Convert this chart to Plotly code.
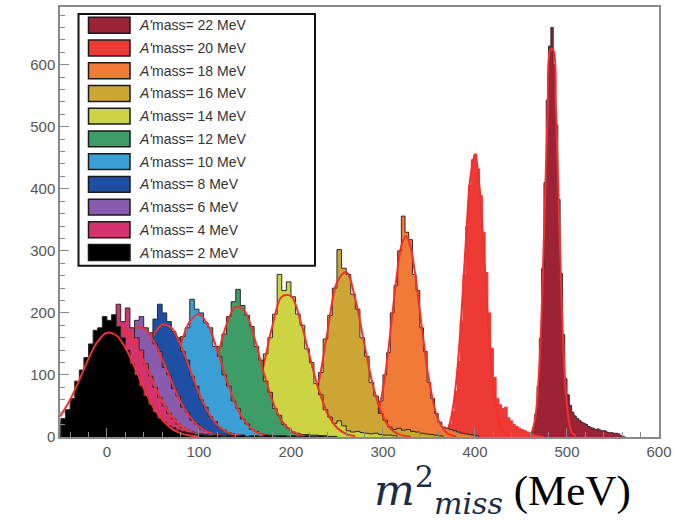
import plotly.graph_objects as go

# ---------------- data ----------------
masses = [22, 20, 18, 16, 14, 12, 10, 8, 6, 4, 2]
fill_colors = ["#9c2236", "#ee3a35", "#f07b39", "#cda535", "#cdd443", "#3e9d67",
               "#3b9fd6", "#1e4fa4", "#8a5aae", "#d3346f", "#000000"]

bin_start = [460, 366, 272, 185, 125, 65, 20, -20, -50, -50, -50]
bin_width = [2.5, 3, 4, 5, 5, 5, 5, 5, 5, 5, 5]

counts_22 = [5, 15, 37, 82, 159, 272, 410, 543, 630, 660, 600, 503, 383, 264, 165, 94, 68, 51,
             40, 34, 30, 27, 24, 22, 20, 17, 15, 14, 12, 13, 11, 10, 10, 8, 7, 7, 6, 6, 5, 2, 1]
counts_20 = [4, 10, 21, 41, 74, 122, 187, 262, 340, 406, 447, 456, 432, 389, 330, 265, 200, 143,
             96, 62, 52, 46, 48, 31, 26, 20, 17, 14, 12, 10, 8, 6, 4, 3, 2, 1]
counts_18 = [1, 2, 4, 9, 18, 36, 58, 100, 136, 200, 244, 300, 356, 330, 318, 262, 236, 176, 138,
             88, 62, 38, 24, 16, 14, 12, 10, 8, 6, 5, 4, 3, 2]
counts_16 = [0, 1, 1, 3, 6, 12, 24, 46, 70, 104, 158, 196, 240, 302, 272, 262, 230, 206, 160,
             130, 88, 66, 38, 27, 16, 12, 14, 11, 12, 9, 8, 6, 5, 4, 3, 2]
counts_14 = [1, 3, 6, 10, 17, 31, 46, 72, 96, 134, 160, 198, 262, 236, 250, 226, 198, 180, 142,
             120, 86, 68, 44, 32, 22, 26, 18, 10, 8, 9, 7, 6, 5, 6, 4, 3, 3, 2]
counts_12 = [1, 2, 4, 7, 12, 20, 31, 46, 62, 90, 112, 146, 166, 194, 218, 238, 212, 196, 178,
             146, 124, 90, 72, 46, 35, 20, 14, 8, 6, 4, 4, 3, 3, 2, 2]
counts_10 = [2, 3, 6, 10, 16, 24, 36, 50, 70, 88, 116, 134, 162, 176, 222, 206, 200, 184, 176,
             146, 130, 100, 82, 58, 46, 29, 21, 12, 9, 5, 4, 3, 2]
counts_8 = [2, 4, 6, 10, 16, 21, 33, 43, 60, 76, 98, 116, 138, 152, 190, 214, 200, 186, 170,
            160, 138, 124, 98, 82, 60, 48, 33, 25, 15, 11, 7, 5, 3, 3]
counts_6 = [4, 6, 9, 14, 21, 27, 39, 50, 66, 80, 99, 117, 136, 146, 166, 170, 188, 194, 176,
            168, 150, 138, 112, 100, 78, 66, 48, 40, 27, 21, 13, 10, 6, 5, 4, 3, 3, 2]
counts_4 = [24, 34, 45, 58, 70, 88, 104, 121, 138, 152, 166, 178, 214, 186, 208, 176, 160, 140,
            118, 98, 80, 64, 50, 38, 29, 21, 15, 11, 8, 6, 5, 4, 3, 3, 2, 3, 2]
counts_2 = [30, 44, 62, 90, 108, 128, 150, 172, 176, 194, 188, 197, 178, 160, 140, 118, 100, 82,
            66, 52, 40, 30, 24, 18, 15, 11, 9, 7, 6, 4, 4, 3, 2, 3, 2, 1,
            2, 1, 2, 3, 1, 2, 2, 1, 3, 2, 1, 2, 2, 1, 2, 1, 1, 2, 1, 1, 2, 1, 1, 1]

# Gaussian fit curves (x, y points)
fit_x_22 = [455, 460, 465, 470, 473, 476, 479, 482, 485, 488, 491, 494, 497, 500, 505, 510]
fit_y_22 = [0.3, 3.6, 26, 115, 226, 376, 527, 624, 624, 527, 376, 226, 115, 50, 8, 1]
fit_x_20 = [360, 370, 375, 380, 385, 390, 395, 400, 405, 410, 415, 420, 425, 430, 440]
fit_y_20 = [0.7, 12, 38, 95, 191, 313, 418, 455, 401, 288, 168, 80, 31, 10, 0.5]
fit_x_18 = [280, 290, 300, 305, 310, 315, 320, 325, 330, 335, 340, 345, 350, 360, 370, 380]
fit_y_18 = [3, 19, 77, 130, 195, 260, 308, 324, 306, 262, 204, 144, 92, 28, 6, 1]
fit_x_16 = [200, 210, 220, 230, 240, 250, 260, 270, 280, 290, 300, 310, 320, 330]
fit_y_16 = [2, 9, 33, 87, 172, 249, 266, 222, 148, 78, 33, 11, 3, 0.6]
fit_x_14 = [130, 140, 150, 160, 170, 180, 190, 200, 210, 220, 230, 240, 250, 260, 270]
fit_y_14 = [2, 7.5, 23, 58, 114, 180, 226, 227, 189, 132, 77, 37, 15, 5, 1.4]
fit_x_12 = [80, 90, 100, 110, 120, 130, 140, 150, 160, 170, 180, 190, 200, 210, 220]
fit_y_12 = [5, 15, 37, 76, 129, 181, 210, 202, 161, 106, 58, 26, 10, 3, 0.8]
fit_x_10 = [40, 50, 60, 70, 80, 90, 100, 110, 120, 130, 140, 150, 160, 170, 180]
fit_y_10 = [12, 29, 59, 101, 148, 186, 198, 180, 139, 92, 52, 25, 10, 3.5, 1]
fit_x_8 = [10, 20, 30, 40, 50, 60, 70, 80, 90, 100, 110, 120, 130, 140, 150]
fit_y_8 = [26, 51, 86, 127, 162, 181, 176, 149, 110, 71, 40, 19.5, 8.4, 3.1, 1]
fit_x_6 = [-20, -10, 0, 10, 20, 30, 40, 50, 60, 70, 80, 90, 100, 110, 120, 130]
fit_y_6 = [33, 57, 90, 125, 156, 175, 175, 156, 125, 90, 57, 33, 17, 7.8, 3.2, 1.2]
fit_x_4 = [-40, -30, -20, -10, 0, 10, 20, 30, 40, 50, 60, 70, 80, 90, 100, 110]
fit_y_4 = [38, 63, 95, 128, 156, 172, 170, 151, 122, 88, 58, 34, 18, 8.6, 3.7, 1.4]
fit_x_2 = [-51, -40, -30, -20, -10, 0, 10, 20, 30, 40, 50, 60, 70, 80, 90, 100]
fit_y_2 = [33, 60, 92, 126, 154, 168, 164, 144, 113, 79, 49, 28, 14, 6.3, 2.5, 0.9]

counts = [counts_22, counts_20, counts_18, counts_16, counts_14, counts_12,
          counts_10, counts_8, counts_6, counts_4, counts_2]
fit_x = [fit_x_22, fit_x_20, fit_x_18, fit_x_16, fit_x_14, fit_x_12,
         fit_x_10, fit_x_8, fit_x_6, fit_x_4, fit_x_2]
fit_y = [fit_y_22, fit_y_20, fit_y_18, fit_y_16, fit_y_14, fit_y_12,
         fit_y_10, fit_y_8, fit_y_6, fit_y_4, fit_y_2]

x_ticks = [0, 100, 200, 300, 400, 500, 600]
y_ticks = [0, 100, 200, 300, 400, 500, 600]

# ---------------- layout geometry ----------------
W, H = 679, 523
ML, MR, MT, MB = 60, 20, 5, 86
PW, PH = W - ML - MR, H - MT - MB


def px2x(px):
    return (px - ML) / PW


def py2y(py):
    return (MT + PH - py) / PH


fig = go.Figure()

for m, col, x0, w, c, fx, fy in zip(masses, fill_colors, bin_start, bin_width, counts, fit_x, fit_y):
    edges = [x0 + w * i for i in range(len(c) + 1)]
    xs = [edges[0]] + edges
    ys = [0] + list(c) + [0]
    outline = col if m == 20 else "#2a2a2a"
    fig.add_trace(go.Scatter(
        x=xs, y=ys, mode="lines", line=dict(shape="hv", color=outline, width=1),
        fill="tozeroy", fillcolor=col, showlegend=False, hoverinfo="skip"))
    fig.add_trace(go.Scatter(
        x=fx, y=fy, mode="lines", line=dict(shape="spline", color="#f2302c", width=2),
        showlegend=False, hoverinfo="skip"))

axis_common = dict(
    showgrid=False, zeroline=False, showline=True, mirror=True,
    linecolor="#8a8a8a", linewidth=1.5,
    ticks="inside", ticklen=9, tickcolor="#8a8a8a", tickwidth=1,
    tickfont=dict(family="Liberation Sans, Arial, sans-serif", size=15, color="#555555"),
    minor=dict(ticks="inside", ticklen=5, dtick=20, tickcolor="#8a8a8a", tickwidth=1, showgrid=False),
)

fig.update_xaxes(range=[-51, 600], tickvals=x_ticks, **axis_common)
fig.update_yaxes(range=[0, 693], tickvals=y_ticks, **axis_common)

# ---------------- legend (ROOT style box) ----------------
shapes = []
annotations = []
lg_left, lg_top, lg_right, lg_bottom = 78.5, 12, 315, 265
shapes.append(dict(type="rect", xref="paper", yref="paper",
                   x0=px2x(lg_left), x1=px2x(lg_right), y0=py2y(lg_bottom), y1=py2y(lg_top),
                   line=dict(color="#111111", width=2), fillcolor="white", layer="above"))
row0, row_step = 23.3, 22.84
for i, (m, col) in enumerate(zip(masses, fill_colors)):
    yc = row0 + row_step * i
    shapes.append(dict(type="rect", xref="paper", yref="paper",
                       x0=px2x(88.5), x1=px2x(130), y0=py2y(yc + 8), y1=py2y(yc - 8),
                       line=dict(color="#1a1a1a", width=1.5), fillcolor=col, layer="above"))
    annotations.append(dict(xref="paper", yref="paper", x=px2x(137), y=py2y(yc),
                            xanchor="left", yanchor="middle", showarrow=False,
                            text=f"<i>A'</i>mass= {m} MeV",
                            font=dict(family="Liberation Sans, Arial, sans-serif", size=14,
                                      color="#333333")))

# x-axis title (bottom right)
annotations.append(dict(
    xref="paper", yref="paper", x=px2x(372), y=py2y(490), xanchor="left", yanchor="middle",
    showarrow=False,
    text=("<span style='font-family:DejaVu Serif;color:#1c2c46'><i>m</i><sup>2</sup>"
          "<sub><i>miss</i></sub></span> <span style='color:#000000'>(MeV)</span>"),
    font=dict(family="Liberation Serif, serif", size=43, color="#000000")))

fig.update_layout(
    width=W, height=H, margin=dict(l=ML, r=MR, t=MT, b=MB),
    plot_bgcolor="white", paper_bgcolor="white",
    shapes=shapes, annotations=annotations, showlegend=False,
)

fig.write_html("out.html")
